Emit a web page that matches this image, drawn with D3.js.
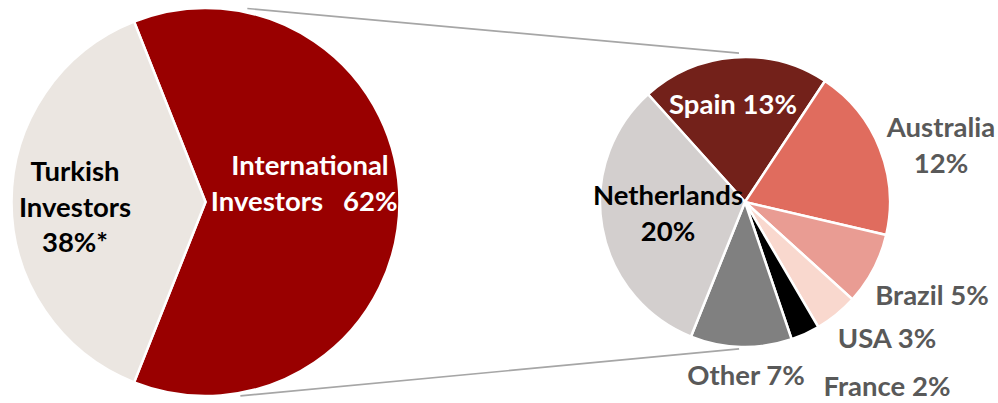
<!DOCTYPE html>
<html>
<head>
<meta charset="utf-8">
<script src="https://cdn.jsdelivr.net/npm/d3@7"></script>
<style>
  body { margin: 0; background: #fff; }
  text { font-family: Lato, "Open Sans", sans-serif; font-weight: bold; white-space: pre; }
</style>
</head>
<body>
<div id="chart"></div>
<script>
// investor split (big pie)
var ownerNames  = ['International', 'Turkish'];
var ownerShares = [62, 38];
var ownerColors = ['#990000', '#ebe6e1'];

// breakdown of international investors (small pie), % of total
var countryNames  = ['Spain', 'Australia', 'Brazil', 'USA', 'France', 'Other', 'Netherlands'];
var countryShares = [13, 12, 5, 3, 2, 7, 20];
var countryColors = ['#73211a', '#e06c5e', '#e99c93', '#f9d8ce', '#000000', '#808080', '#d3cfce'];

var W = 998, H = 403;
var rad = function(deg) { return deg * Math.PI / 180; };

var svg = d3.select('#chart').append('svg')
    .attr('width', W)
    .attr('height', H);

var big   = {x: 205.5, y: 202, r: 194};
var small = {x: 745, y: 202, r: 145};

// point on a circle, angle clockwise from 12 o'clock
function polar(c, deg, extra) {
  var a = rad(deg), rr = c.r + (extra || 0);
  return [c.x + rr * Math.sin(a), c.y - rr * Math.cos(a)];
}

// series lines between the two pies
var links = [[polar(big, 12.2, 4), polar(small, -2.3, 4)],
             [polar(big, 169.8, 3), polar(small, 182.3, 2)]];
svg.selectAll('line.link')
  .data(links)
  .enter().append('line')
  .attr('class', 'link')
  .attr('x1', function(d){ return d[0][0]; })
  .attr('y1', function(d){ return d[0][1]; })
  .attr('x2', function(d){ return d[1][0]; })
  .attr('y2', function(d){ return d[1][1]; })
  .style('stroke', '#a6a6a6')
  .style('stroke-width', 1.6);

// big pie
var bigPie = d3.pie().sort(null)
  .startAngle(Math.PI / 2 - 0.62 * Math.PI)
  .endAngle(Math.PI / 2 - 0.62 * Math.PI + 2 * Math.PI);
var bigArc = d3.arc().innerRadius(0).outerRadius(big.r);

svg.append('g')
  .attr('transform', 'translate(' + big.x + ',' + big.y + ')')
  .selectAll('path')
  .data(bigPie(ownerShares))
  .enter().append('path')
  .attr('d', bigArc)
  .style('fill', function(d, i){ return ownerColors[i]; })
  .style('stroke', '#fff')
  .style('stroke-width', 2.5);

// small pie
var smallPie = d3.pie().sort(null)
  .startAngle(rad(-42))
  .endAngle(rad(318));
var smallArc = d3.arc().innerRadius(0).outerRadius(small.r);

svg.append('g')
  .attr('transform', 'translate(' + small.x + ',' + small.y + ')')
  .selectAll('path')
  .data(smallPie(countryShares))
  .enter().append('path')
  .attr('d', smallArc)
  .style('fill', function(d, i){ return countryColors[i]; })
  .style('stroke', '#fff')
  .style('stroke-width', 2.5);

// labels (hand placed, like the original)
var labels = [
  {lines: ['Turkish', 'Investors', '38%*'], x: 75, y: 181, fill: '#000'},
  {lines: ['International', 'Investors   62%*'], x: 310, y: 175, fill: '#fff'},
  {lines: ['Spain 13%'], x: 733, y: 114, fill: '#fff'},
  {lines: ['Australia', '12%'], x: 941, y: 137, fill: '#595959'},
  {lines: ['Netherlands', '20%'], x: 668, y: 205, fill: '#000'},
  {lines: ['Brazil 5%'], x: 932, y: 305, fill: '#595959'},
  {lines: ['USA 3%'], x: 887, y: 348, fill: '#595959'},
  {lines: ['Other 7%'], x: 746, y: 385, fill: '#595959'},
  {lines: ['France 2%'], x: 887, y: 396, fill: '#595959'}
];

var txt = svg.selectAll('text.lbl')
  .data(labels)
  .enter().append('text')
  .attr('class', 'lbl')
  .attr('text-anchor', 'middle')
  .style('font-size', '27.5px')
  .style('fill', function(d){ return d.fill; });

txt.selectAll('tspan')
  .data(function(d){ return d.lines.map(function(l){ return {t: l, x: d.x, y: d.y}; }); })
  .enter().append('tspan')
  .attr('x', function(d){ return d.x; })
  .attr('y', function(d, i){ return d.y + i * 35.5; })
  .text(function(d){ return d.t; });
</script>
</body>
</html>
